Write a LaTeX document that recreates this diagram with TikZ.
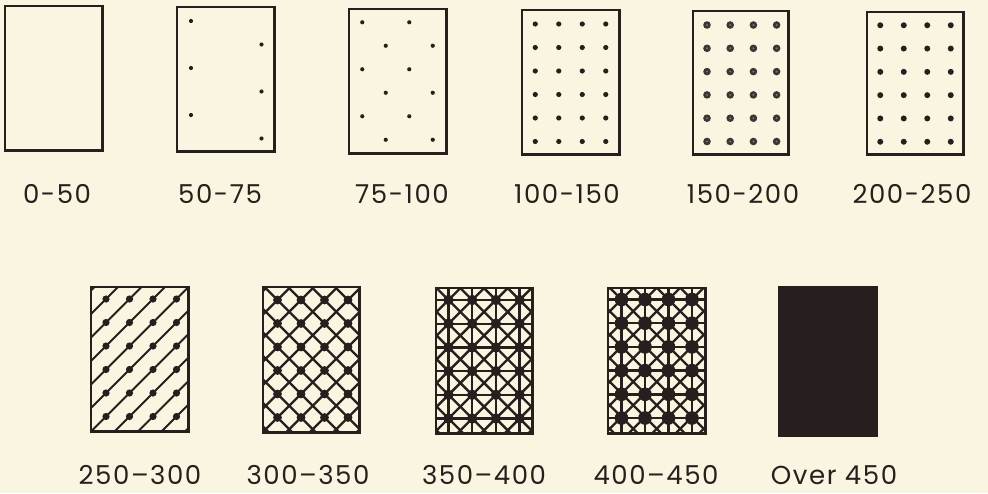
\documentclass[tikz,border=0pt]{standalone}
\usepackage{fontspec}
\setmainfont{Poppins}[LetterSpace=6]
\definecolor{paper}{RGB}{249,245,224}
\definecolor{ink}{RGB}{38,31,29}
\definecolor{ringin}{RGB}{125,117,110}
\begin{document}
\begin{tikzpicture}[x=1pt,y=-1pt,
  box/.style={inner sep=0pt,anchor=north west,minimum width=97pt,minimum height=144pt},
  frame/.style={draw=ink,line width=2.5pt},
  lab/.style={text=ink,font=\fontsize{26}{28}\selectfont,inner sep=0pt,anchor=base,text height=18pt,text depth=0pt},
  hatch/.style={draw=ink,line width=1.8pt},
  thick hatch/.style={draw=ink,line width=2.4pt},
]
\fill[paper] (0,0) rectangle (988,493);
\useasboundingbox (0,0) rectangle (988,493);
% boxes (positions)
\node[box] (b1) at (5,6) {};
\node[box] (b2) at (177,7) {};
\node[box] (b3) at (349,9) {};
\node[box] (b4) at (522,10) {};
\node[box,minimum width=95pt,minimum height=143pt] (b5) at (693,11) {};
\node[box,minimum width=96pt,minimum height=142pt] (b6) at (867,12) {};
\node[box] (b7) at (91,287) {};
\node[box,minimum width=96pt,minimum height=145pt] (b8) at (263,287) {};
\node[box,minimum width=96pt,minimum height=145pt] (b9) at (436,288) {};
\node[box,minimum width=97pt,minimum height=145pt] (b10) at (608,288) {};
\node[box,minimum width=97pt,minimum height=148pt,fill=ink] (b11) at (779,287) {};
% b2
\begin{scope}[shift={(b2.north west)}]
\foreach \j/\i in {0/0,1/3,2/0,3/3,4/0,5/3}
  \fill[ink] ({14+23.5*\i},{14+23.5*\j}) circle (2.1);
\end{scope}
% b3
\begin{scope}[shift={(b3.north west)}]
\foreach \j/\i in {0/0,0/2,1/1,1/3,2/0,2/2,3/1,3/3,4/0,4/2,5/1,5/3}
  \fill[ink] ({13.25+23.5*\i},{13.25+23.5*\j}) circle (2.1);
\end{scope}
% b4
\begin{scope}[shift={(b4.north west)}]
\foreach \j in {0,...,5} \foreach \i in {0,...,3}
  \fill[ink] ({13.25+23.5*\i},{14+23.5*\j}) circle (2.6);
\end{scope}
% b5
\begin{scope}[shift={(b5.north west)}]
\foreach \j in {0,...,5} \foreach \i in {0,...,3}{
  \fill[ink!90] ({14+23.2*\i},{14+23.3*\j}) circle (3.8);
  \fill[ringin] ({14+23.2*\i},{14+23.3*\j}) circle (1.1);}
\end{scope}
% b6
\begin{scope}[shift={(b6.north west)}]
\foreach \j in {0,...,5} \foreach \i in {0,...,3}
  \fill[ink] ({13.25+23.5*\i},{13.25+23.3*\j}) circle (3);
\end{scope}
% b7
\begin{scope}
\clip (b7.north west) rectangle (b7.south east);
\begin{scope}[shift={(b7.north west)}]
\foreach \k in {-3,...,11}
  \draw[hatch] ({15+23.5*\k-200},{12+200}) -- ({15+23.5*\k+200},{12-200});
\foreach \j in {0,...,5} \foreach \i in {0,...,3}
  \fill[ink] ({15+23.5*\i},{12+23.5*\j}) circle (3.6);
\end{scope}
\end{scope}
% b8
\begin{scope}
\clip (b8.north west) rectangle (b8.south east);
\begin{scope}[shift={(b8.north west)}]
\foreach \k in {-3,...,11}
  \draw[thick hatch] ({14.5+23.5*\k-200},{13+200}) -- ({14.5+23.5*\k+200},{13-200});
\foreach \k in {-8,...,6}
  \draw[thick hatch] ({14.5+23.5*\k-200},{13-200}) -- ({14.5+23.5*\k+200},{13+200});
\foreach \j in {0,...,5} \foreach \i in {0,...,3}
  \fill[ink] ({14.5+23.5*\i},{13+23.5*\j}) circle (4.4);
\end{scope}
\end{scope}
% b9
\begin{scope}
\clip (b9.north west) rectangle (b9.south east);
\begin{scope}[shift={(b9.north west)}]
\foreach \k in {-3,...,11}
  \draw[thick hatch] ({12.5+23.7*\k-200},{12+200}) -- ({12.5+23.7*\k+200},{12-200});
\foreach \k in {-8,...,6}
  \draw[thick hatch] ({12.5+23.7*\k-200},{12-200}) -- ({12.5+23.7*\k+200},{12+200});
\foreach \i in {0,...,3}
  \draw[thick hatch] ({12.5+23.7*\i},-5) -- ({12.5+23.7*\i},150);
\foreach \j in {0,...,5}
  \draw[thick hatch] (-5,{12+23.7*\j}) -- (105,{12+23.7*\j});
\foreach \j in {0,...,5} \foreach \i in {0,...,3}
  \fill[ink] ({12.5+23.7*\i},{12+23.7*\j}) circle (5.2);
\end{scope}
\end{scope}
% b10
\begin{scope}
\clip (b10.north west) rectangle (b10.south east);
\begin{scope}[shift={(b10.north west)}]
\foreach \k in {-3,...,11}
  \draw[thick hatch] ({13.5+23.5*\k-200},{11.5+200}) -- ({13.5+23.5*\k+200},{11.5-200});
\foreach \k in {-8,...,6}
  \draw[thick hatch] ({13.5+23.5*\k-200},{11.5-200}) -- ({13.5+23.5*\k+200},{11.5+200});
\foreach \i in {0,...,3}
  \draw[thick hatch] ({13.5+23.5*\i},-5) -- ({13.5+23.5*\i},150);
\foreach \j in {0,...,5}
  \draw[thick hatch] (-5,{11.5+23.7*\j}) -- (105,{11.5+23.7*\j});
\foreach \j in {0,...,5} \foreach \i in {0,...,3}
  \fill[ink] ({13.5+23.5*\i},{11.5+23.7*\j}) circle (6.8);
\end{scope}
\end{scope}
% frames
\foreach \b in {b1,b2,b3,b4,b5,b6,b7,b8,b9,b10,b11}
  \draw[frame] (\b.north west) rectangle (\b.south east);
% labels
\node[lab] (l1) at (57,203) {0-50};
\node[lab] (l2) at (220,203) {50-75};
\node[lab] (l3) at (402,203) {75-100};
\node[lab] (l4) at (567,203) {100-150};
\node[lab] (l5) at (743,203) {150-200};
\node[lab] (l6) at (912,203) {200-250};
\node[lab] (l7) at (140,484) {250–300};
\node[lab] (l8) at (308,484) {300–350};
\node[lab] (l9) at (484,484) {350–400};
\node[lab] (l10) at (656,484) {400–450};
\node[lab] (l11) at (834,484) {Over 450};
\end{tikzpicture}
\end{document}
